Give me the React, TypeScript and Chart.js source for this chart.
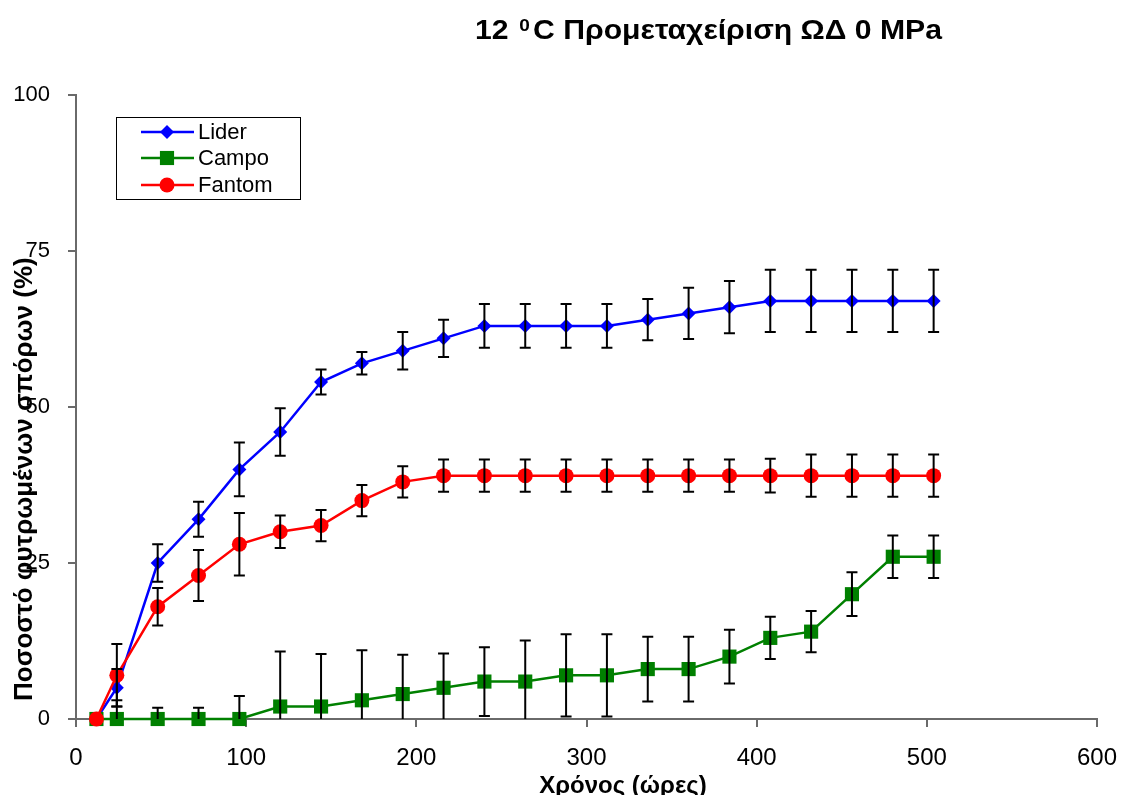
import React, { useEffect, useRef } from 'react';
import { Chart, registerables } from 'chart.js';

Chart.register(...registerables);

// ---- data ----
const hours = [12, 24, 48, 72, 96, 120, 144, 168, 192, 216, 240, 264, 288, 312, 336, 360, 384, 408, 432, 456, 480, 504];

const lider = [0, 5, 25, 32, 40, 46, 54, 57, 59, 61, 63, 63, 63, 63, 64, 65, 66, 67, 67, 67, 67, 67];
const liderErr = [0, 3, 3, 2.8, 4.3, 3.8, 2, 1.8, 3, 3, 3.5, 3.5, 3.5, 3.5, 3.3, 4.1, 4.2, 5, 5, 5, 5, 5];

const campo = [0, 0, 0, 0, 0, 2, 2, 3, 4, 5, 6, 6, 7, 7, 8, 8, 10, 13, 14, 20, 26, 26];
const campoErr = [0, 3, 1.8, 1.8, 3.7, 8.8, 8.4, 8, 6.3, 5.5, 5.5, 6.6, 6.6, 6.6, 5.2, 5.2, 4.3, 3.4, 3.3, 3.5, 3.4, 3.4];

const fantom = [0, 7, 18, 23, 28, 30, 31, 35, 38, 39, 39, 39, 39, 39, 39, 39, 39, 39, 39, 39, 39, 39];
const fantomErr = [0, 5, 3, 4.1, 5, 2.6, 2.5, 2.5, 2.5, 2.6, 2.6, 2.6, 2.6, 2.6, 2.6, 2.6, 2.6, 2.7, 3.4, 3.4, 3.4, 3.4];

const seriesNames = ['Lider', 'Campo', 'Fantom'];
const xTicks = [0, 100, 200, 300, 400, 500, 600];
const yTicks = [0, 25, 50, 75, 100];

const titleMain = '12';
const titleSup = '0';
const titleRest = 'C Προμεταχείριση ΩΔ 0 MPa';
const xTitle = 'Χρόνος (ώρες)';
const yTitle = 'Ποσοστό φυτρωμένων σπόρων (%)';

const FONT = "'Liberation Sans', Arial, Helvetica, sans-serif";
const AXIS = '#6a6a6a';

const colors = ['#0000FF', '#008000', '#FF0000'];
const styles: any[] = ['rectRot', 'rect', 'circle'];
const radii = [7, 10, 7.5];
const values = [lider, campo, fantom];
const errors = [liderErr, campoErr, fantomErr];

function drawMarker(ctx: CanvasRenderingContext2D, style: string, x: number, y: number, r: number, color: string) {
  ctx.save();
  ctx.fillStyle = color;
  ctx.beginPath();
  if (style === 'circle') {
    ctx.arc(x, y, r, 0, Math.PI * 2);
  } else if (style === 'rect') {
    const s = Math.SQRT1_2 * r;
    ctx.rect(x - s, y - s, 2 * s, 2 * s);
  } else {
    ctx.moveTo(x, y - r);
    ctx.lineTo(x + r, y);
    ctx.lineTo(x, y + r);
    ctx.lineTo(x - r, y);
    ctx.closePath();
  }
  ctx.fill();
  ctx.restore();
}

export default function App() {
  const ref = useRef<HTMLCanvasElement>(null);

  useEffect(() => {
    document.body.style.margin = '0';
    const canvas = ref.current;
    if (!canvas) return;

    const errorBars = {
      id: 'errorBars',
      afterDatasetsDraw(chart: any) {
        const { ctx, chartArea, scales } = chart;
        const xs = scales.x;
        const ys = scales.y;
        ctx.save();
        ctx.beginPath();
        ctx.rect(chartArea.left - 10, chartArea.top - 10, chartArea.right - chartArea.left + 20, chartArea.bottom - chartArea.top + 10);
        ctx.clip();
        ctx.strokeStyle = '#000';
        ctx.lineWidth = 2;
        const cap = 5.5;
        values.forEach((vals, si) => {
          vals.forEach((v, i) => {
            const e = errors[si][i];
            if (!e) return;
            const x = xs.getPixelForValue(hours[i]);
            const yt = ys.getPixelForValue(v + e);
            const lo = v - e;
            const yb = ys.getPixelForValue(Math.max(lo, 0));
            ctx.beginPath();
            ctx.moveTo(x, yt);
            ctx.lineTo(x, yb);
            ctx.moveTo(x - cap, yt);
            ctx.lineTo(x + cap, yt);
            if (lo >= 0) {
              ctx.moveTo(x - cap, yb);
              ctx.lineTo(x + cap, yb);
            }
            ctx.stroke();
          });
        });
        ctx.restore();
      },
    };

    const decorations = {
      id: 'decorations',
      afterDraw(chart: any) {
        const { ctx } = chart;
        ctx.save();
        ctx.fillStyle = '#000';
        ctx.textBaseline = 'alphabetic';
        ctx.textAlign = 'left';

        // main title, stretched horizontally to span 475..942
        ctx.save();
        ctx.font = `bold 27px ${FONT}`;
        const wMain = ctx.measureText(titleMain + ' ').width;
        const wRest = ctx.measureText(titleRest).width;
        ctx.font = `bold 17px ${FONT}`;
        const wSup = ctx.measureText(titleSup).width;
        const natural = wMain + 2 + wSup + 3 + wRest;
        const sx = 467 / natural;
        ctx.translate(475, 0);
        ctx.scale(sx, 1);
        let x = 0;
        ctx.font = `bold 27px ${FONT}`;
        ctx.fillText(titleMain, x, 39);
        x += wMain + 2;
        ctx.font = `bold 17px ${FONT}`;
        ctx.fillText(titleSup, x, 31);
        x += wSup + 3;
        ctx.font = `bold 27px ${FONT}`;
        ctx.fillText(titleRest, x, 39);
        ctx.restore();

        // x title
        ctx.font = `bold 24px ${FONT}`;
        ctx.textAlign = 'center';
        ctx.fillText(xTitle, 623, 793);

        // y title
        ctx.save();
        ctx.translate(32, 701);
        ctx.rotate(-Math.PI / 2);
        ctx.textAlign = 'left';
        ctx.font = `bold 26px ${FONT}`;
        ctx.fillText(yTitle, 0, 0);
        ctx.restore();

        // legend
        ctx.fillStyle = '#fff';
        ctx.fillRect(116, 117, 184, 82);
        ctx.strokeStyle = '#000';
        ctx.lineWidth = 1;
        ctx.strokeRect(116.5, 117.5, 184, 82);
        const rows = [132, 158, 185];
        seriesNames.forEach((name, i) => {
          const y = rows[i];
          ctx.strokeStyle = colors[i];
          ctx.lineWidth = 2.5;
          ctx.beginPath();
          ctx.moveTo(141, y);
          ctx.lineTo(194, y);
          ctx.stroke();
          drawMarker(ctx, styles[i], 167, y, radii[i], colors[i]);
          ctx.fillStyle = '#000';
          ctx.font = `22px ${FONT}`;
          ctx.textAlign = 'left';
          ctx.textBaseline = 'middle';
          ctx.fillText(name, 198, y + 1);
        });
        ctx.restore();
      },
    };

    const chart = new Chart(canvas, {
      type: 'line',
      data: {
        datasets: values.map((vals, si) => ({
          label: seriesNames[si],
          data: hours.map((h, i) => ({ x: h, y: vals[i] })),
          borderColor: colors[si],
          backgroundColor: colors[si],
          pointBackgroundColor: colors[si],
          pointBorderColor: colors[si],
          pointBorderWidth: 0,
          borderWidth: 2.5,
          pointStyle: styles[si],
          pointRadius: radii[si],
          tension: 0,
          clip: false,
          order: 2 - si,
        })),
      },
      options: {
        responsive: false,
        animation: false,
        layout: { padding: { left: 0, top: 95, right: 24, bottom: 0 } },
        plugins: {
          legend: { display: false },
          title: { display: false },
          tooltip: { enabled: false },
        },
        scales: {
          x: {
            type: 'linear',
            min: 0,
            max: 600,
            afterBuildTicks(s: any) {
              s.ticks = xTicks.map((v) => ({ value: v }));
            },
            ticks: { font: { family: FONT, size: 24 }, color: '#000', padding: 17, maxRotation: 0 },
            grid: { drawOnChartArea: false, tickLength: 8, color: AXIS, lineWidth: 2 },
            border: { color: AXIS, width: 2 },
            afterFit(s: any) {
              s.height = 76;
              s.paddingLeft = 0;
              s.paddingRight = 0;
            },
          },
          y: {
            type: 'linear',
            min: 0,
            max: 100,
            afterBuildTicks(s: any) {
              s.ticks = yTicks.map((v) => ({ value: v }));
            },
            ticks: { font: { family: FONT, size: 22 }, color: '#000', padding: 18 },
            grid: { drawOnChartArea: false, tickLength: 8, color: AXIS, lineWidth: 2 },
            border: { color: AXIS, width: 2 },
            afterFit(s: any) {
              s.width = 76;
              s.paddingTop = 0;
              s.paddingBottom = 0;
            },
          },
        },
      },
      plugins: [errorBars, decorations],
    } as any);

    return () => chart.destroy();
  }, []);

  return (
    <div style={{ position: 'absolute', left: 0, top: 0, width: 1121, height: 795, background: '#fff' }}>
      <canvas ref={ref} width={1121} height={795} style={{ width: 1121, height: 795, display: 'block' }} />
    </div>
  );
}
